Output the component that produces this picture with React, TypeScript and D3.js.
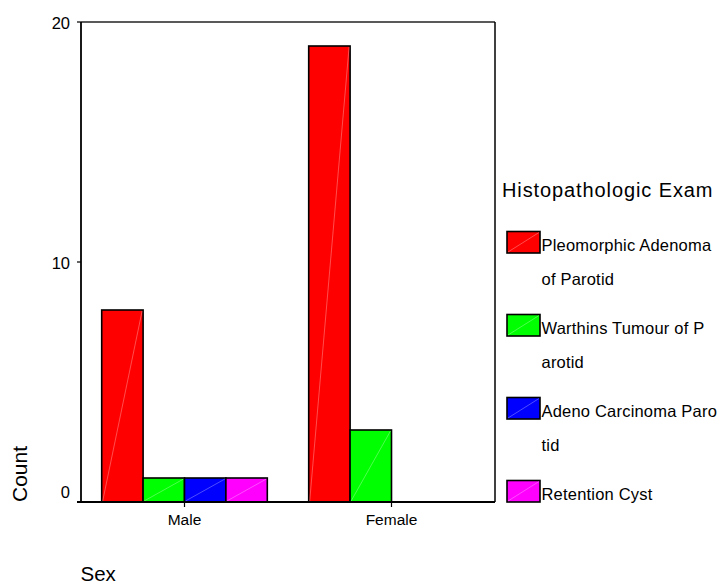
import React from "react";
import * as d3 from "d3";

const categories = ["Male", "Female"];
const seriesNames = [
  "Pleomorphic Adenoma of Parotid",
  "Warthins Tumour of Parotid",
  "Adeno Carcinoma Parotid",
  "Retention Cyst",
];
const legendLines = [
  ["Pleomorphic Adenoma", "of Parotid"],
  ["Warthins Tumour of P", "arotid"],
  ["Adeno Carcinoma Paro", "tid"],
  ["Retention Cyst"],
];
const pleomorphic = [8, 19];
const warthins = [1, 3];
const adeno = [1, 0];
const retention = [1, 0];
const seriesColors = ["#FF0000", "#00FF00", "#0000FF", "#FF00FF"];
const yTicks = [0, 10, 20];

const values = [pleomorphic, warthins, adeno, retention];

const W = 721;
const H = 585;
const left = 81;
const right = 495;
const top = 22;
const bottom = 502;
const font = "'Liberation Sans', Arial, sans-serif";

export default function App() {
  const x0 = d3.scaleBand<string>().domain(categories).range([left, right]).paddingInner(0.2).paddingOuter(0.1);
  const x1 = d3.scaleBand<number>().domain(d3.range(seriesNames.length)).range([0, x0.bandwidth()]).padding(0);
  const y = d3.scaleLinear().domain([0, 20]).range([bottom, top]);

  const bars: React.ReactNode[] = [];
  categories.forEach((c, ci) => {
    values.forEach((vals, si) => {
      const v = vals[ci];
      if (!v) return;
      const bx = (x0(c) as number) + (x1(si) as number);
      const bw = x1.bandwidth();
      const by = y(v);
      const bh = y(0) - y(v);
      bars.push(
        <g key={`${c}-${si}`}>
          <rect x={bx} y={by} width={bw} height={bh} fill={seriesColors[si]} stroke="#000" strokeWidth={1.6} />
          <line x1={bx + 1} y1={y(0) - 1} x2={bx + bw - 1} y2={by + 1} stroke="#fff" strokeOpacity={0.3} strokeWidth={1} />
        </g>
      );
    });
  });

  const legX = 507;
  const legSw = 33;
  const legSh = 21.5;
  const legBase0 = 250.5;
  const legStep = 83;
  const lineH = 34;

  return (
    <svg width={W} height={H} style={{ position: "absolute", left: 0, top: 0, background: "#fff" }} fontFamily={font}>
      <rect x={0} y={0} width={W} height={H} fill="#fff" />
      {/* frame */}
      <line x1={left} y1={top} x2={right} y2={top} stroke="#222" strokeWidth={1.5} />
      <line x1={right} y1={top} x2={right} y2={bottom} stroke="#000" strokeWidth={1.5} />
      {bars}
      {/* axes */}
      <line x1={left} y1={top} x2={left} y2={bottom} stroke="#000" strokeWidth={1.8} />
      <line x1={left - 4} y1={bottom} x2={right} y2={bottom} stroke="#000" strokeWidth={1.8} />
      {yTicks.map((t) => (
        <g key={t}>
          <line x1={left - 4} y1={y(t)} x2={left} y2={y(t)} stroke="#000" strokeWidth={1.2} />
          <text x={70} y={y(t) + (t === 0 ? -4.5 : 6.5)} textAnchor="end" fontSize={16.5} fill="#000">
            {t}
          </text>
        </g>
      ))}
      {categories.map((c) => {
        const cx = (x0(c) as number) + x0.bandwidth() / 2;
        return (
          <g key={c}>
            <line x1={cx} y1={bottom} x2={cx} y2={bottom + 5} stroke="#000" strokeWidth={1.2} />
            <text x={cx} y={525} textAnchor="middle" fontSize={15.5} fill="#000">
              {c}
            </text>
          </g>
        );
      })}
      <text transform="translate(26.5,474) rotate(-90)" textAnchor="middle" fontSize={21} fill="#000">
        Count
      </text>
      <text x={80.5} y={580.5} fontSize={20.5} fill="#000">
        Sex
      </text>
      {/* legend */}
      <text x={502} y={197.3} fontSize={20} letterSpacing={0.9} fill="#000">
        Histopathologic Exam
      </text>
      {legendLines.map((lines, i) => {
        const base = legBase0 + i * legStep;
        return (
          <g key={i}>
            <rect x={legX} y={base - 19} width={legSw} height={legSh} fill={seriesColors[i]} stroke="#000" strokeWidth={1.6} />
            <line x1={legX + 1} y1={base - 19 + legSh - 1} x2={legX + legSw - 1} y2={base - 18} stroke="#fff" strokeOpacity={0.3} strokeWidth={1} />
            {lines.map((ln, li) => (
              <text key={li} x={541.5} y={base + li * lineH} fontSize={16.5} letterSpacing={0.2} fill="#000">
                {ln}
              </text>
            ))}
          </g>
        );
      })}
    </svg>
  );
}
